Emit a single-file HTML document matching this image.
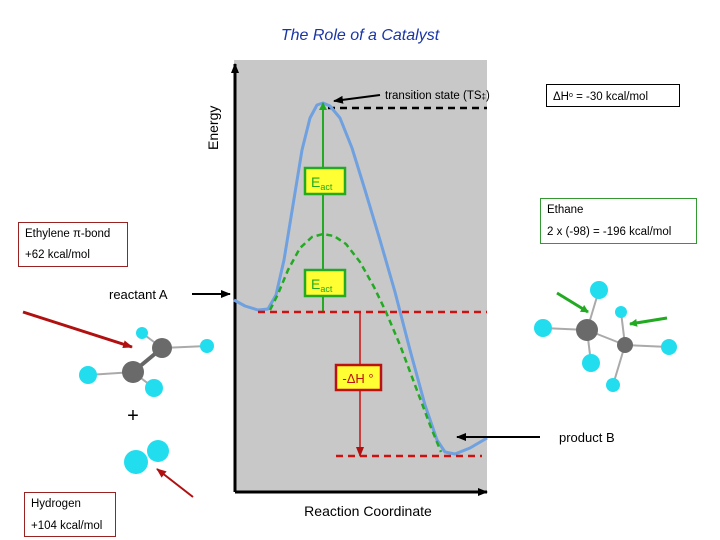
<!DOCTYPE html><html><head><style>body{margin:0;background:#fff}svg{display:block}text{font-family:"Liberation Sans",sans-serif}</style></head><body>
<svg width="720" height="540" viewBox="0 0 720 540" xmlns="http://www.w3.org/2000/svg">
<defs>
<marker id="ab" markerUnits="userSpaceOnUse" markerWidth="10" markerHeight="8" refX="9" refY="4" orient="auto"><path d="M0,0L10,4L0,8z" fill="#000"/></marker>
<marker id="ar" markerUnits="userSpaceOnUse" markerWidth="10" markerHeight="8" refX="9" refY="4" orient="auto"><path d="M0,0L10,4L0,8z" fill="#b01010"/></marker>
<marker id="ag" markerUnits="userSpaceOnUse" markerWidth="8" markerHeight="8" refX="7" refY="4" orient="auto"><path d="M0,0L8,4L0,8z" fill="#22aa22"/></marker>
</defs>
<text x="360" y="40" text-anchor="middle" font-size="16" font-style="italic" fill="#1a35a8">The Role of a Catalyst</text>
<rect x="234" y="60" width="253" height="432" fill="#c8c8c8"/>
<line x1="235" y1="492" x2="235" y2="64" stroke="#000" stroke-width="3" marker-end="url(#ab)"/>
<line x1="235" y1="492" x2="487" y2="492" stroke="#000" stroke-width="3" marker-end="url(#ab)"/>
<text transform="translate(218,150) rotate(-90)" font-size="14">Energy</text>
<text x="368" y="516" text-anchor="middle" font-size="14">Reaction Coordinate</text>
<line x1="328" y1="108" x2="487" y2="108" stroke="#000" stroke-width="2.5" stroke-dasharray="7,5"/>
<polyline points="234,300 245,306 258,310 268,309 276,295 284,260 293,205 302,150 310,118 317,105 323,103 330,106 340,118 352,148 365,190 380,240 395,292 410,350 425,405 437,440 445,452 455,454 470,448 487,438" fill="none" stroke="#6fa0e0" stroke-width="3" stroke-linejoin="round"/>
<polyline points="270,310 278,294 288,270 300,248 312,237 323,234 334,236 346,244 360,262 374,287 386,312 400,345 415,385 430,425 441,452" fill="none" stroke="#22aa22" stroke-width="2.5" stroke-dasharray="6,4" stroke-linejoin="round"/>
<line x1="323" y1="312" x2="323" y2="103" stroke="#22aa22" stroke-width="2" marker-end="url(#ag)"/>
<line x1="258" y1="312" x2="487" y2="312" stroke="#cc1111" stroke-width="2.5" stroke-dasharray="7,5"/>
<line x1="336" y1="456" x2="482" y2="456" stroke="#cc1111" stroke-width="2.5" stroke-dasharray="7,5"/>
<line x1="360" y1="312" x2="360" y2="456" stroke="#cc1111" stroke-width="1.5" marker-end="url(#ar)"/>
<rect x="305" y="168" width="40" height="26" fill="#ffff33" stroke="#22aa22" stroke-width="2.5"/>
<text x="311" y="187" font-size="14" fill="#22aa22">E<tspan font-size="9" dy="3">act</tspan></text>
<rect x="305" y="270" width="40" height="26" fill="#ffff33" stroke="#22aa22" stroke-width="2.5"/>
<text x="311" y="289" font-size="14" fill="#22aa22">E<tspan font-size="9" dy="3">act</tspan></text>
<rect x="336" y="365" width="45" height="25" fill="#ffff33" stroke="#bb1111" stroke-width="2.5"/>
<text x="358" y="383" text-anchor="middle" font-size="13" fill="#bb1111">-ΔH °</text>
<line x1="380" y1="95" x2="334" y2="101" stroke="#000" stroke-width="2" marker-end="url(#ab)"/>
<text x="385" y="99" font-size="11.5">transition state (TS<tspan font-size="8">‡</tspan>)</text>
<rect x="546.5" y="84.5" width="133" height="22" fill="#fff" stroke="#000"/>
<text x="553" y="100" font-size="11.5">ΔH<tspan font-size="7" dy="-3">o</tspan><tspan dy="3"> = -30 kcal/mol</tspan></text>
<rect x="540.5" y="198.5" width="156" height="45" fill="#fff" stroke="#339933"/>
<text x="547" y="213" font-size="11.5">Ethane</text>
<text x="547" y="235" font-size="11.5">2 x  (-98) = -196  kcal/mol</text>
<rect x="18.5" y="222.5" width="109" height="44" fill="#fff" stroke="#992222"/>
<text x="25" y="237" font-size="11.5">Ethylene π-bond</text>
<text x="25" y="258" font-size="11.5">+62 kcal/mol</text>
<rect x="24.5" y="492.5" width="91" height="44" fill="#fff" stroke="#992222"/>
<text x="31" y="507" font-size="11.5">Hydrogen</text>
<text x="31" y="529" font-size="11.5">+104 kcal/mol</text>
<text x="109" y="299" font-size="13">reactant A</text>
<line x1="192" y1="294" x2="230" y2="294" stroke="#000" stroke-width="2" marker-end="url(#ab)"/>
<text x="559" y="442" font-size="13">product B</text>
<line x1="540" y1="437" x2="457" y2="437" stroke="#000" stroke-width="2" marker-end="url(#ab)"/>
<line x1="23" y1="312" x2="132" y2="347" stroke="#b01010" stroke-width="3" marker-end="url(#ar)"/>
<line x1="193" y1="497" x2="157" y2="469" stroke="#b01010" stroke-width="2" marker-end="url(#ar)"/>
<g stroke="#aaa" stroke-width="2"><line x1="162" y1="348" x2="142" y2="333"/><line x1="162" y1="348" x2="207" y2="346"/><line x1="133" y1="372" x2="88" y2="375"/><line x1="133" y1="372" x2="154" y2="388"/></g>
<line x1="162" y1="348" x2="133" y2="372" stroke="#666" stroke-width="4"/>
<g fill="#22ddee"><circle cx="142" cy="333" r="6"/><circle cx="207" cy="346" r="7"/><circle cx="88" cy="375" r="9"/><circle cx="154" cy="388" r="9"/></g>
<g fill="#6a6a6a"><circle cx="162" cy="348" r="10"/><circle cx="133" cy="372" r="11"/></g>
<text x="133" y="422" text-anchor="middle" font-size="20">+</text>
<circle cx="158" cy="451" r="11" fill="#22ddee"/><circle cx="136" cy="462" r="12" fill="#22ddee"/>
<g stroke="#aaa" stroke-width="2"><line x1="587" y1="330" x2="599" y2="290"/><line x1="587" y1="330" x2="543" y2="328"/><line x1="587" y1="330" x2="591" y2="363"/><line x1="587" y1="330" x2="625" y2="345"/><line x1="625" y1="345" x2="621" y2="312"/><line x1="625" y1="345" x2="669" y2="347"/><line x1="625" y1="345" x2="613" y2="385"/></g>
<g fill="#22ddee"><circle cx="599" cy="290" r="9"/><circle cx="543" cy="328" r="9"/><circle cx="591" cy="363" r="9"/><circle cx="621" cy="312" r="6"/><circle cx="669" cy="347" r="8"/><circle cx="613" cy="385" r="7"/></g>
<g fill="#6a6a6a"><circle cx="587" cy="330" r="11"/><circle cx="625" cy="345" r="8"/></g>
<line x1="557" y1="293" x2="588" y2="312" stroke="#22aa22" stroke-width="3" marker-end="url(#ag)"/>
<line x1="667" y1="318" x2="630" y2="324" stroke="#22aa22" stroke-width="3" marker-end="url(#ag)"/>
</svg></body></html>
